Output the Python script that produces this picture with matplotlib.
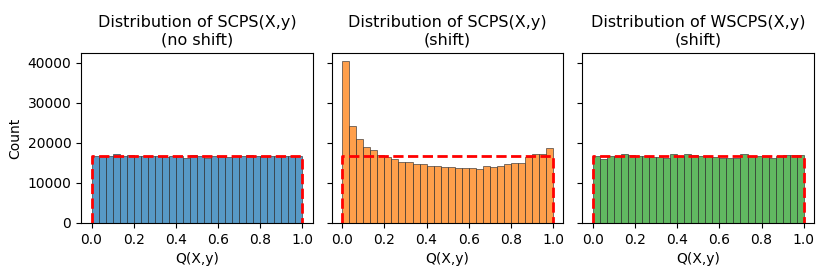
import numpy as np
import matplotlib
matplotlib.use("Agg")
import matplotlib.pyplot as plt

# 30 bins over [0, 1], 500000 samples each
bin_edges = np.linspace(0, 1, 31)
uniform_level = 500000 / 30

scps_noshift = [16700, 16650, 16600, 17100, 16700, 16950, 16800, 16600, 16700, 16650,
                16500, 16600, 16700, 16200, 17000, 16600, 16300, 16750, 16400, 16550,
                16600, 16700, 16950, 16650, 16600, 16700, 16650, 16700, 16650, 16700]
scps_shift = [40400, 24170, 20830, 18900, 18250, 17080, 16500, 15900, 15170, 15330,
              14830, 14830, 14170, 14250, 13900, 14080, 13750, 13830, 13750, 13580,
              14170, 14080, 14330, 14830, 15080, 15000, 16420, 17250, 17250, 18580]
wscps_shift = [16667, 15900, 16667, 16667, 17150, 17050, 16667, 16667, 16400, 16350,
               16200, 17150, 16750, 17300, 16950, 16750, 16667, 16500, 16250, 16200,
               16100, 17300, 16600, 16667, 16667, 16200, 16667, 16900, 17000, 17000]

titles = ["Distribution of SCPS(X,y)\n(no shift)",
          "Distribution of SCPS(X,y)\n(shift)",
          "Distribution of WSCPS(X,y)\n(shift)"]
series = [scps_noshift, scps_shift, wscps_shift]
colors = ["tab:blue", "tab:orange", "tab:green"]

fig, axes = plt.subplots(1, 3, figsize=(8.3, 2.77), dpi=100, sharey=True)
centers = (bin_edges[:-1] + bin_edges[1:]) / 2

for ax, counts, title, c in zip(axes, series, titles, colors):
    ax.hist(centers, bins=bin_edges, weights=counts, color=c, alpha=0.75,
            edgecolor="#333333", linewidth=0.6)
    ax.plot([0, 0, 1, 1], [0, uniform_level, uniform_level, 0],
            color="red", linestyle="--", linewidth=2)
    ax.set_title(title, fontsize=11.5)
    ax.set_xlabel("Q(X,y)")
    ax.set_xticks([0.0, 0.2, 0.4, 0.6, 0.8, 1.0])

axes[0].set_ylabel("Count")
axes[0].set_ylim(0, 42420)

fig.subplots_adjust(left=0.0976, right=0.981, bottom=0.195, top=0.809, wspace=0.082)
fig.savefig("out.png")
